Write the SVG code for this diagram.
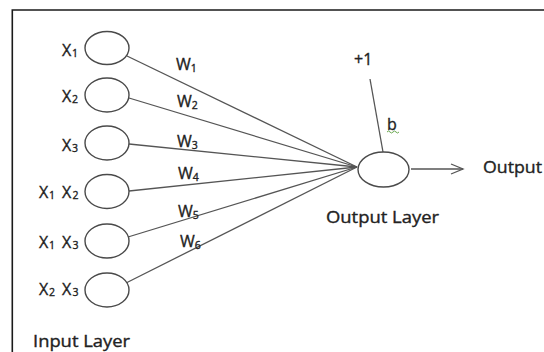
<svg xmlns="http://www.w3.org/2000/svg" width="544" height="352" viewBox="0 0 544 352">
<style>
text{font-family:"Open Sans","Noto Sans","Liberation Sans",sans-serif;font-size:16px;fill:#222;stroke:#222;stroke-width:0.35}
.sub{font-size:10.5px}
.node{fill:#fff;stroke:#4a4a4a;stroke-width:1.4}
.conn{stroke:#555;stroke-width:1.3;fill:none}
</style>
<rect width="544" height="352" fill="#fff"/>
<path d="M12.3,352 V10 H544" fill="none" stroke="#1a1a1a" stroke-width="1.6"/>
<g id="connectors">
<line class="conn" x1="127" y1="56" x2="357" y2="167"/>
<line class="conn" x1="129" y1="98" x2="357" y2="167"/>
<line class="conn" x1="129" y1="144" x2="357" y2="167"/>
<line class="conn" x1="129" y1="191" x2="357" y2="167"/>
<line class="conn" x1="128" y1="237" x2="357" y2="167"/>
<line class="conn" x1="126" y1="283" x2="357" y2="167"/>
<line class="conn" x1="370" y1="79" x2="383" y2="152" stroke="#222"/>
<line class="conn" x1="411" y1="169" x2="463" y2="169"/>
<polyline class="conn" points="451,164 463,169 451,174"/>
<text x="176" y="70">W<tspan class="sub" dy="2">1</tspan></text>
<text x="177" y="107">W<tspan class="sub" dy="2">2</tspan></text>
<text x="177" y="147">W<tspan class="sub" dy="2">3</tspan></text>
<text x="178" y="179">W<tspan class="sub" dy="2">4</tspan></text>
<text x="178" y="217">W<tspan class="sub" dy="2">5</tspan></text>
<text x="180" y="247">W<tspan class="sub" dy="2">6</tspan></text>
<text x="354" y="65">+1</text>
<text x="387" y="130">b</text>
<path d="M387,132 q1.5,-2 3,0 t3,0 t3,0 t3,0" fill="none" stroke="#6aa84f" stroke-width="1"/>
</g>
<g id="x1">
<ellipse class="node" cx="107" cy="48" rx="22" ry="16.5"/>
<text y="56"><tspan x="62">X</tspan><tspan class="sub" x="72" dy="1">1</tspan></text>
</g>
<g id="x2">
<ellipse class="node" cx="107" cy="95" rx="22" ry="17"/>
<text y="102"><tspan x="62">X</tspan><tspan class="sub" x="72" dy="1">2</tspan></text>
</g>
<g id="x3">
<ellipse class="node" cx="107" cy="143" rx="22" ry="17"/>
<text y="151"><tspan x="62">X</tspan><tspan class="sub" x="72" dy="1">3</tspan></text>
</g>
<g id="x1x2">
<ellipse class="node" cx="107" cy="191.5" rx="22" ry="17"/>
<text y="198"><tspan x="39">X</tspan><tspan class="sub" x="49" dy="1">1</tspan><tspan x="62" dy="-1">X</tspan><tspan class="sub" x="72.5" dy="1">2</tspan></text>
</g>
<g id="x1x3">
<ellipse class="node" cx="107" cy="241" rx="22" ry="17"/>
<text y="248"><tspan x="39">X</tspan><tspan class="sub" x="49" dy="1">1</tspan><tspan x="62" dy="-1">X</tspan><tspan class="sub" x="72.5" dy="1">3</tspan></text>
</g>
<g id="x2x3">
<ellipse class="node" cx="107" cy="290" rx="22" ry="17"/>
<text y="295"><tspan x="39">X</tspan><tspan class="sub" x="49" dy="1">2</tspan><tspan x="62" dy="-1">X</tspan><tspan class="sub" x="72.5" dy="1">3</tspan></text>
</g>
<g id="output-node">
<ellipse class="node" cx="383.5" cy="169.5" rx="25.5" ry="17.5"/>
<text x="326" y="223" textLength="113" lengthAdjust="spacingAndGlyphs">Output Layer</text>
</g>
<g id="output-label">
<text x="483" y="173" textLength="59" lengthAdjust="spacingAndGlyphs">Output</text>
</g>
<g id="input-label">
<text x="33" y="347" textLength="97" lengthAdjust="spacingAndGlyphs">Input Layer</text>
</g>
</svg>
